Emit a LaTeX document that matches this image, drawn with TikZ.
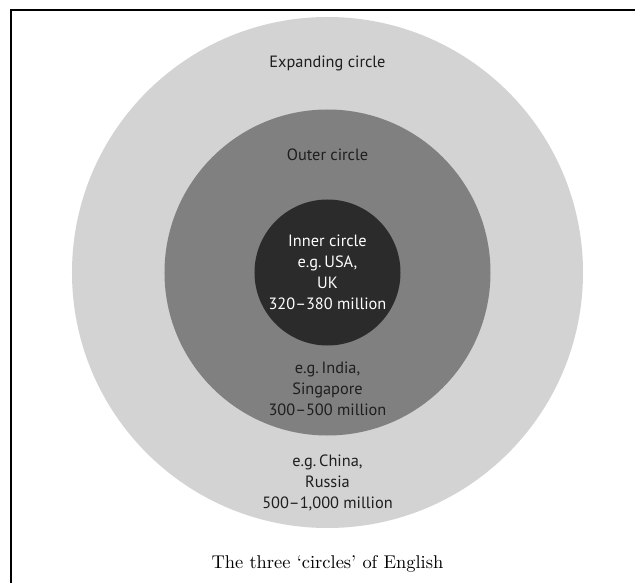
\documentclass[tikz,border=0pt]{standalone}
\usepackage{fontspec}
\setsansfont{PT Sans}
\definecolor{expandgray}{HTML}{D3D3D3}
\definecolor{outergray}{HTML}{808080}
\definecolor{innergray}{HTML}{2B2B2B}
\definecolor{labelink}{HTML}{1E1E1E}
\begin{document}
\begin{tikzpicture}[ring/.style={font=\sffamily\fontsize{9.3}{12}\selectfont,align=center,text=labelink}]
  \useasboundingbox (-6.55,-6.21) rectangle (6.15,5.45);
  \def\rexp{5.11}
  \def\rout{3.26}
  \def\rinn{1.46}
  \coordinate (O) at (0,0);

  % frame, open at right and bottom
  \draw[line width=0.6pt] (-6.33,-6.21) |- (6.15,5.25);

  \fill[expandgray] (O) circle (\rexp);
  \fill[outergray]  (O) circle (\rout);
  \fill[innergray]  (O) circle (\rinn);

  \node[ring] (expname) at (0,4.19) {Expanding circle};
  \node[ring] (outname) at (0,2.36) {Outer circle};
  \node[ring,text=white] (inner) at (0,0) {Inner circle\\e.g.\,USA,\\UK\\320--380 million};
  \node[ring] (outer) at (0,-2.33) {e.g.\,India,\\Singapore\\300--500 million};
  \node[ring] (expanding) at (0,-4.21) {e.g.\,China,\\Russia\\500--1,000 million};

  \node[font=\fontsize{10.5}{12}\selectfont] (caption) at (0,-5.82) {The three `circles' of English};
\end{tikzpicture}
\end{document}
